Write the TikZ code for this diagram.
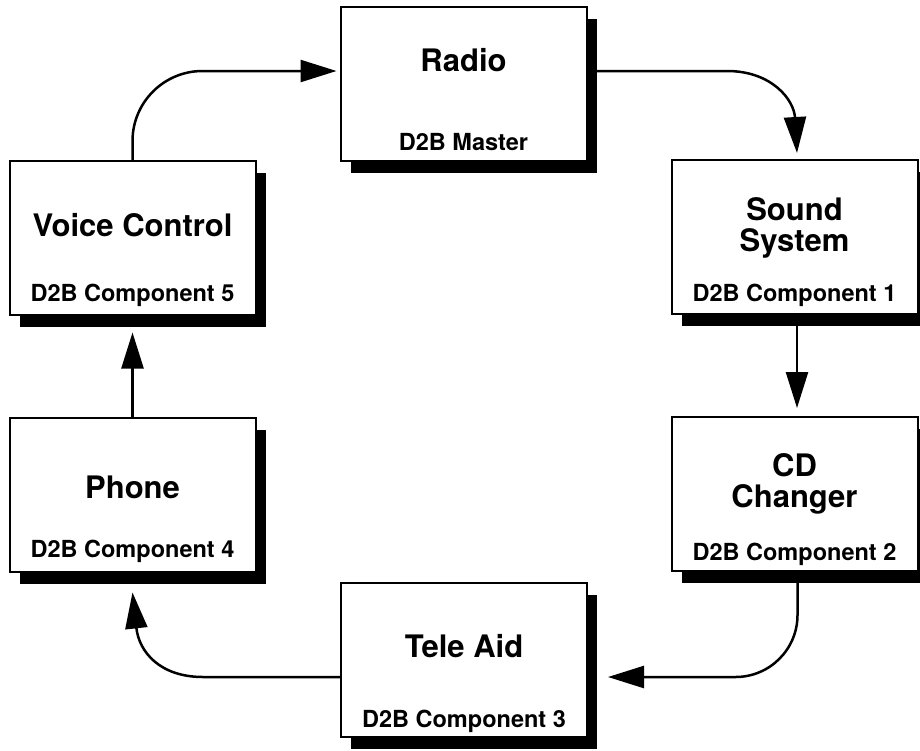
\documentclass[tikz,border=0pt]{standalone}
\usepackage{fontspec}
\setmainfont{TeX Gyre Heros}
\usetikzlibrary{arrows.meta,shadows}
\begin{document}
\begin{tikzpicture}[x=1pt,y=-1pt,
  box/.style={draw, line width=2pt, fill=white, minimum width=246pt, minimum height=154pt,
    inner sep=0pt, outer sep=0pt,
    general shadow={fill=black, shadow xshift=10pt, shadow yshift=-12pt}},
  title/.style={font=\fontsize{31}{31}\selectfont\bfseries, align=center, inner sep=0pt},
  sub/.style={font=\fontsize{23.5}{24}\selectfont\bfseries, inner sep=0pt, anchor=base},
  conn/.style={line width=2.5pt, -{Triangle[length=36pt,width=22pt]}}
]
\clip (0,0) rectangle (920,750);
% boxes
\node[box] (radio) at (463.5,84) {};
\node[box] (sound) at (794.5,237) {};
\node[box] (cd) at (794.5,494) {};
\node[box] (tele) at (464,660) {};
\node[box] (phone) at (132.5,494.5) {};
\node[box] (voice) at (132.5,237.5) {};
% titles
\node[title] (radioT) at ([yshift=24pt]radio.center) {Radio};
\node[title] (soundT) at ([yshift=9pt]sound.center) {Sound\\System};
\node[title] (cdT) at ([yshift=10pt]cd.center) {CD\\Changer};
\node[title] (teleT) at ([yshift=14pt]tele.center) {Tele Aid};
\node[title] (phoneT) at ([yshift=7.5pt]phone.center) {Phone};
\node[title] (voiceT) at ([yshift=12.5pt]voice.center) {Voice Control};
% subtitles
\node[sub] (radioS) at ([yshift=11pt]radio.south) {D2B Master};
\node[sub] (soundS) at ([yshift=13pt]sound.south) {D2B Component 1};
\node[sub] (cdS) at ([yshift=11pt]cd.south) {D2B Component 2};
\node[sub] (teleS) at ([yshift=10pt]tele.south) {D2B Component 3};
\node[sub] (phoneS) at ([yshift=14pt]phone.south) {D2B Component 4};
\node[sub] (voiceS) at ([yshift=13pt]voice.south) {D2B Component 5};
% connectors
\draw[conn, rounded corners=70pt] (voice.north) |- ([xshift=-4pt,yshift=13pt]radio.west);
\draw[conn] ([yshift=13pt]radio.east) -- (727,71) .. controls (772,71) and (794,100) .. ([xshift=2.5pt,yshift=7pt]sound.north);
\draw[conn] ([xshift=2.5pt]sound.south) -- ([xshift=2.5pt,yshift=9pt]cd.north);
\draw[conn, rounded corners=62pt] ([xshift=3pt]cd.south) |- ([xshift=21pt,yshift=-17pt]tele.east);
\draw[conn] ([yshift=-17pt]tele.west) -- (203,677) .. controls (160,677) and (139,652) .. ([yshift=-21pt]phone.south);
\draw[conn] (phone.north) -- ([yshift=-18pt]voice.south);
\end{tikzpicture}
\end{document}
